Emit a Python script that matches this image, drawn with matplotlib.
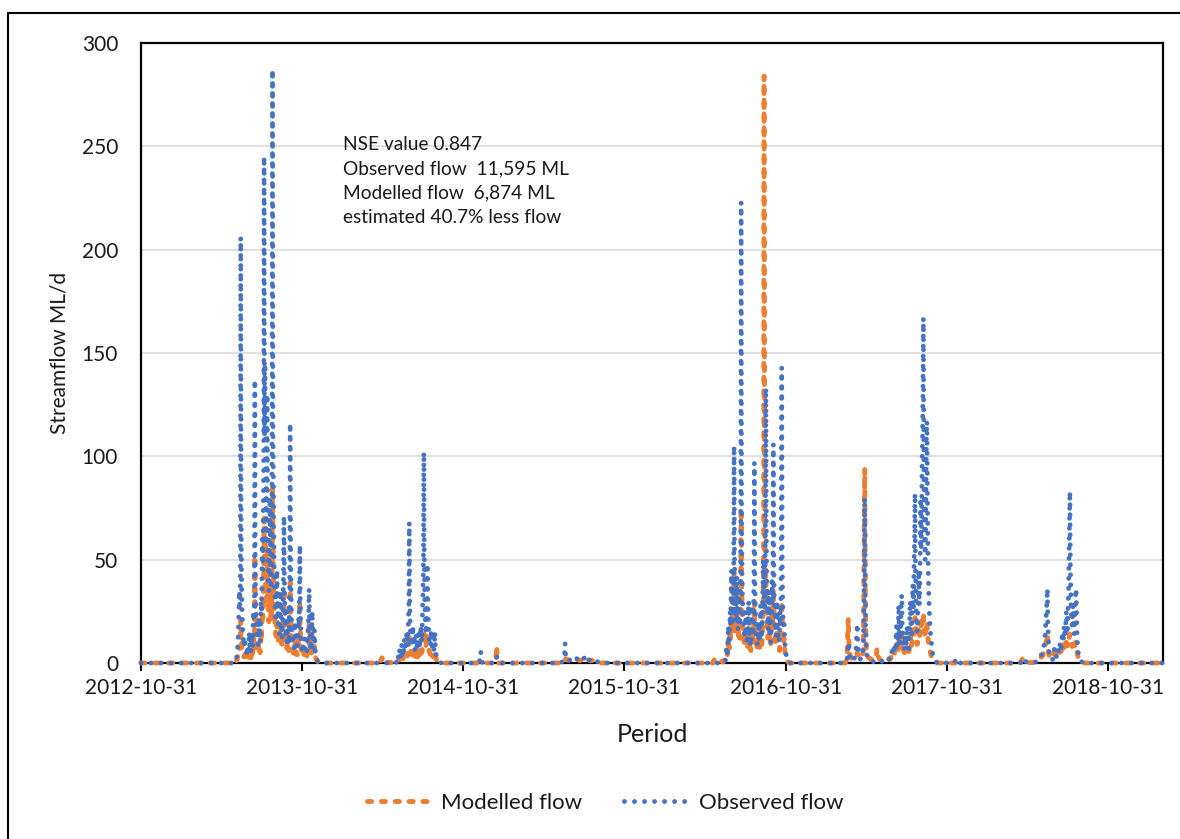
import numpy as np
import matplotlib
matplotlib.use("Agg")
import matplotlib.pyplot as plt
from matplotlib.patches import Rectangle

plt.rcParams['font.family'] = ['Lato', 'DejaVu Sans']

# ---------------- data (daily streamflow, ML/d) ----------------
period_start = "2012-10-31"
period_end = "2019-03-05"
tick_dates = ["2012-10-31", "2013-10-31", "2014-10-31", "2015-10-31",
              "2016-10-31", "2017-10-31", "2018-10-31"]
y_ticks = [0, 50, 100, 150, 200, 250, 300]

# Observed flow, wet-period blocks (start date, daily values); dry days are 0
obs_2013_start = "2013-06-01"
obs_2013 = [0, 0.5, 1, 2, 3, 5, 8,
            12, 18, 25, 35, 28, 40, 206,
            70, 38, 25, 18, 14, 11, 9,
            8, 12, 9, 7, 6, 5, 8,
            6, 5, 4, 6, 15, 10, 7,
            6, 5, 9, 14, 10, 8, 18,
            25, 20, 30, 137, 45, 28, 20,
            15, 12, 10, 9, 14, 22, 16,
            12, 10, 18, 30, 24, 40, 60,
            45, 70, 95, 245, 110, 145, 80,
            60, 75, 95, 130, 70, 50, 40,
            35, 55, 80, 60, 45, 38, 50,
            100, 287, 120, 88, 60, 45, 35,
            28, 24, 20, 30, 45, 32, 25,
            20, 17, 15, 14, 25, 35, 22,
            17, 14, 12, 20, 30, 45, 71,
            40, 28, 20, 15, 12, 10, 18,
            25, 15, 11, 9, 20, 40, 116,
            60, 35, 22, 16, 12, 10, 9,
            8, 7, 12, 20, 14, 10, 8,
            7, 6, 9, 15, 22, 18, 30,
            57, 28, 16, 11, 8, 7, 6,
            5, 5, 8, 12, 9, 7, 6,
            5, 4, 6, 10, 14, 18, 25,
            36, 20, 12, 8, 6, 10, 15,
            25, 14, 9, 7, 10, 16, 9,
            6, 4, 3, 2, 1.5, 1, 0.8,
            0.6, 0.5, 0.4, 0.3, 0.2, 0.1, 0]

obs_2014_start = "2014-06-01"
obs_2014 = [0, 0.5, 1, 2, 4, 3, 2,
            3, 6, 4, 3, 2.5, 5, 9,
            6, 4, 3, 5, 8, 12, 9,
            7, 6, 10, 15, 11, 8, 14,
            20, 28, 68, 30, 18, 14, 11,
            9, 8, 12, 18, 13, 10, 8,
            7, 6, 9, 14, 10, 8, 7,
            6, 10, 16, 12, 9, 7, 12,
            18, 14, 10, 15, 25, 35, 48,
            102, 50, 30, 22, 17, 14, 20,
            28, 48, 30, 20, 15, 12, 10,
            9, 8, 12, 16, 11, 8, 7,
            6, 5, 7, 10, 15, 8, 5,
            4, 3, 2.5, 2, 1.5, 1, 0.8,
            0.6, 0.5, 0.3, 0.2, 0.1, 0, 0]

obs_dec2014_start = "2014-12-06"
obs_dec2014 = [0.5, 1, 1.5, 3, 5.5, 2, 1, 0.5, 0]

obs_jan2015_start = "2015-01-12"
obs_jan2015 = [0.5, 1, 2, 3, 1.5, 0.8, 0.3, 0]

obs_2015_start = "2015-06-10"
obs_2015 = [0, 0.3, 0.5, 0.8, 1, 1.2, 1.5,
            2, 4.5, 9.5, 4.4, 2.5, 2, 1.5,
            1.2, 1, 1, 1.2, 1.5, 1.5, 1.2,
            1, 1, 1.2, 1.5, 1.5, 1.8, 2,
            2, 1.8, 1.6, 1.5, 1.8, 2, 2.3,
            2.3, 2, 1.8, 1.6, 1.5, 1.4, 1.3,
            1.3, 1.2, 1.2, 1.5, 1.8, 2, 1.8,
            1.6, 1.5, 1.8, 2.2, 2.8, 3.2, 3.5,
            3.5, 3.2, 3.5, 2.5, 2, 1.8, 1.6,
            1.5, 1.4, 1.3, 1.2, 1.2, 1.3, 1.5,
            1.5, 1.4, 1.2, 1, 1, 1.2, 1.5,
            1.5, 1.3, 1.2, 1, 0.8, 0.7, 0.6,
            0.5, 0.4, 0.3, 0.2, 0.2, 0.1, 0]

obs_2016_start = "2016-06-15"
obs_2016 = [0.5, 1, 2, 4, 8, 6, 5,
            10, 18, 12, 9, 15, 25, 18,
            30, 45, 28, 20, 35, 25, 40,
            105, 50, 32, 25, 20, 30, 42,
            28, 20, 16, 25, 35, 22, 18,
            30, 55, 223, 80, 45, 32, 25,
            20, 16, 14, 12, 18, 25, 15,
            12, 10, 9, 15, 22, 30, 18,
            14, 11, 9, 8, 12, 20, 28,
            18, 13, 25, 40, 97, 45, 28,
            20, 15, 12, 10, 9, 14, 20,
            15, 12, 10, 18, 28, 20, 15,
            12, 20, 35, 50, 40, 30, 25,
            45, 70, 133, 65, 40, 28, 20,
            16, 25, 35, 22, 16, 12, 10,
            15, 25, 40, 30, 45, 106, 50,
            32, 24, 18, 15, 13, 20, 30,
            22, 16, 13, 11, 10, 15, 25,
            18, 30, 60, 143, 55, 32, 22,
            18, 21, 15, 10, 7, 5, 4,
            3, 2, 1.5, 1, 0.8, 0.5, 0.3,
            0.2, 0.1, 0]

obs_2017_start = "2017-03-15"
obs_2017 = [0, 0.3, 0.5, 1, 2, 4, 6,
            8, 10, 5, 3, 2, 1.5, 1.2,
            1, 0.8, 0.8, 1, 1.2, 1.5, 2,
            2.5, 3, 4, 6, 9, 14, 19,
            13, 8, 5, 4, 3, 2.5, 2,
            2, 1.8, 2, 2.5, 3, 5, 10,
            25, 50, 80, 45, 20, 10, 6,
            4, 3, 2.5, 2, 1.8, 1.5, 1.3,
            1.2, 1, 1, 0.9, 0.8, 0.8, 0.7,
            0.7, 0.6, 0.6, 0.5, 0.5, 0.5, 0.5,
            0.5, 0.6, 0.8, 1, 1.2, 1, 0.8,
            0.7, 0.6, 0.5, 0.5, 0.5, 0.6, 0.8,
            1, 1.2, 1, 0.8, 0.7, 0.8, 1,
            1.2, 1.5, 1.2, 1, 1, 1.2, 1.5,
            1.8, 2, 1.8, 1.5, 1.5, 2, 3,
            4, 6, 5, 4, 6, 9, 7,
            6, 5, 8, 12, 18, 12, 8,
            10, 16, 28, 18, 12, 9, 15,
            22, 30, 33, 20, 14, 10, 8,
            7, 6, 9, 14, 10, 8, 12,
            18, 14, 10, 8, 7, 12, 20,
            30, 22, 16, 12, 18, 28, 38,
            25, 35, 50, 60, 82, 45, 30,
            22, 18, 15, 20, 30, 45, 35,
            28, 40, 60, 80, 55, 70, 95,
            110, 130, 167, 100, 75, 60, 50,
            65, 90, 110, 117, 85, 60, 45,
            35, 28, 22, 18, 15, 12, 10,
            8, 6, 4.5, 3.5, 2.5, 2, 1.5,
            1.2, 1, 0.8, 0.6, 0.4, 0.2, 0]

obs_nov2017_start = "2017-11-18"
obs_nov2017 = [0.5, 1, 2, 1.5, 1, 0.5, 0]

obs_2018_start = "2018-04-15"
obs_2018 = [0, 0.2, 0.5, 0.8, 1, 1.2, 1,
            0.8, 1, 1.5, 2, 1.5, 1, 0.8,
            0.6, 0.5, 0.4, 0.3, 0.3, 0.2, 0.2,
            0.2, 0.2, 0.3, 0.3, 0.3, 0.2, 0.2,
            0.2, 0.2, 0.3, 0.4, 0.5, 0.5, 0.5,
            0.5, 0.5, 0.6, 0.8, 1, 1.2, 1.5,
            1.5, 1.5, 2, 2.5, 3, 3.5, 4,
            4, 4.5, 5, 6, 7, 8, 10,
            12, 14, 18, 22, 26, 30, 36,
            20, 12, 8, 5, 3.5, 2.5, 2,
            1.8, 1.6, 1.5, 1.5, 1.8, 2.5, 3.5,
            5, 7, 5, 4, 3.5, 3, 3.5,
            4, 5, 7, 6, 5, 6, 8,
            10, 8, 7, 9, 12, 15, 12,
            10, 14, 18, 15, 12, 16, 20,
            25, 18, 14, 20, 28, 35, 50,
            65, 83, 50, 35, 25, 20, 18,
            22, 28, 20, 16, 14, 20, 28,
            33, 36, 25, 15, 10, 7, 5,
            4, 3, 2.2, 1.6, 1.2, 1, 0.8,
            0.6, 0.5, 0.4, 0.3, 0.2, 0.1, 0]

# Modelled flow, wet-period blocks
mod_2013_start = "2013-06-01"
mod_2013 = [0, 0, 0.5, 1, 1.5, 2, 3,
            4, 5, 6, 8, 7, 9, 21,
            15, 10, 7, 5, 4, 3.5, 3,
            3, 4, 3, 2.5, 2, 2, 3,
            2.5, 2, 2, 3, 6, 4, 3,
            3, 2.5, 4, 6, 5, 4, 8,
            12, 10, 14, 52, 25, 15, 10,
            8, 6, 5, 5, 7, 10, 8,
            6, 5, 8, 14, 12, 18, 28,
            22, 32, 45, 70, 50, 60, 40,
            30, 35, 45, 55, 35, 26, 22,
            20, 28, 38, 30, 24, 20, 26,
            45, 86, 60, 45, 33, 26, 21,
            18, 15, 13, 16, 22, 17, 14,
            12, 10, 9, 9, 14, 18, 13,
            10, 9, 8, 11, 16, 24, 36,
            24, 17, 13, 10, 8, 7, 10,
            14, 9, 7, 6, 11, 20, 39,
            26, 17, 12, 9, 7, 6, 5,
            5, 4, 6, 10, 8, 6, 5,
            4, 4, 5, 8, 12, 10, 15,
            30, 16, 10, 7, 5, 4, 4,
            3, 3, 4, 6, 5, 4, 3,
            3, 2.5, 3, 5, 7, 9, 12,
            20, 11, 7, 5, 4, 5, 8,
            13, 8, 5, 4, 5, 8, 5,
            3.5, 2.5, 2, 1.5, 1, 0.8, 0.5,
            0.4, 0.3, 0.2, 0.1, 0.1, 0, 0]

mod_2014_start = "2014-04-25"
mod_2014 = [0, 0.5, 1, 1.5, 2, 2.5, 2,
            3, 2.5, 2, 1.5, 1, 0.8, 0.6,
            0.5, 0.4, 0.3, 0.3, 0.2, 0.2, 0.2,
            0.2, 0.2, 0.3, 0.3, 0.2, 0.2, 0.2,
            0.2, 0.3, 0.3, 0.3, 0.4, 0.4, 0.5,
            0.5, 0.6, 0.8, 1, 1.5, 1.2, 1,
            1, 1.5, 2.5, 2, 1.5, 1.2, 2,
            3, 2.5, 2, 1.5, 2, 3, 4,
            3.5, 3, 2.5, 2.5, 3.5, 5, 4,
            3.5, 5, 7, 9, 14, 9, 7,
            6, 5, 4.5, 4, 5, 7, 6,
            5, 4, 3.5, 3, 4, 6, 5,
            4, 3.5, 3, 4, 7, 6, 5,
            4, 5, 7, 6, 5, 6, 9,
            12, 14, 16, 13, 11, 9, 8,
            9, 11, 14, 12, 10, 8, 7,
            6, 5, 4.5, 4, 5, 6, 5,
            4, 3.5, 3, 3, 3.5, 4.5, 6,
            4, 3, 2, 1.5, 1.2, 1, 0.8,
            0.6, 0.5, 0.4, 0.3, 0.2, 0.1, 0]

mod_jan2015_start = "2015-01-12"
mod_jan2015 = [0.5, 1.5, 4, 8, 3, 1.5, 0.8, 0.3, 0]

mod_2015_start = "2015-06-10"
mod_2015 = [0, 0.3, 0.5, 0.8, 1, 1.2, 1.5,
            1.8, 2.2, 2.3, 2, 1.8, 1.6, 1.5,
            1.4, 1.3, 1.3, 1.4, 1.5, 1.5, 1.4,
            1.3, 1.3, 1.4, 1.5, 1.6, 1.8, 2,
            2, 1.9, 1.8, 1.7, 1.8, 2, 2.2,
            2.2, 2, 1.8, 1.6, 1.5, 1.4, 1.3,
            1.3, 1.2, 1.2, 1.4, 1.6, 1.8, 1.7,
            1.6, 1.5, 1.7, 2, 2.3, 2.5, 2.6,
            2.5, 2.3, 2.2, 2, 1.8, 1.6, 1.5,
            1.4, 1.3, 1.2, 1.1, 1.1, 1.2, 1.3,
            1.3, 1.2, 1.1, 1, 1, 1.1, 1.2,
            1.2, 1.1, 1, 0.9, 0.8, 0.7, 0.6,
            0.5, 0.4, 0.3, 0.2, 0.2, 0.1, 0]

mod_2016_start = "2016-05-20"
mod_2016 = [0.5, 1, 1.5, 1, 0.8, 0.6, 0.5,
            0.5, 0.6, 0.8, 1, 0.8, 0.6, 0.5,
            0.5, 0.5, 0.6, 0.8, 1, 0.8, 0.6,
            0.5, 0.5, 0.6, 0.8, 1.5, 2, 3,
            4, 5, 6, 5, 4, 8, 12,
            9, 7, 10, 16, 12, 18, 25,
            18, 14, 22, 16, 24, 44, 30,
            20, 16, 14, 18, 24, 18, 14,
            12, 15, 20, 14, 12, 18, 32,
            75, 45, 28, 20, 16, 13, 11,
            10, 9, 12, 16, 11, 9, 8,
            7, 10, 14, 18, 12, 9, 8,
            7, 6, 8, 12, 16, 12, 9,
            15, 22, 30, 20, 15, 12, 10,
            9, 8, 7, 9, 12, 10, 8,
            7, 10, 15, 12, 10, 9, 14,
            22, 30, 60, 284, 110, 55, 40,
            45, 32, 24, 18, 14, 12, 16,
            20, 15, 12, 10, 9, 12, 18,
            25, 20, 28, 36, 25, 18, 14,
            12, 10, 9, 12, 16, 12, 10,
            9, 8, 7, 6, 9, 14, 20,
            25, 30, 22, 15, 11, 9, 12,
            9, 6, 4, 3, 2, 1.5, 1,
            0.8, 0.5, 0.4, 0.3, 0.2, 0.1, 0]

mod_2017_start = "2017-03-15"
mod_2017 = [0, 0.5, 1, 2, 5, 10, 18,
            21.6, 12, 7, 5, 4, 3, 2.5,
            2, 1.8, 1.6, 1.5, 1.5, 1.6, 1.8,
            2, 2.2, 2.5, 3, 3.5, 4, 5,
            4.5, 4, 3.5, 3, 2.8, 2.5, 2.4,
            2.3, 2.2, 2.5, 3, 3.5, 5, 10,
            30, 60, 94, 50, 20, 10, 6,
            4, 3.5, 3, 2.8, 2.5, 2.3, 2.2,
            2, 2, 1.8, 1.8, 1.6, 1.5, 1.5,
            1.5, 1.5, 1.4, 1.4, 1.5, 1.8, 2.5,
            3.5, 5, 7, 5, 4, 3, 2.5,
            2, 1.8, 1.6, 1.5, 1.5, 1.6, 1.8,
            1.8, 2, 1.8, 1.6, 1.5, 1.4, 1.3,
            1.2, 1.1, 1, 1, 1, 1.2, 1.5,
            1.8, 2, 2, 1.8, 1.8, 2.2, 3,
            3.5, 4.5, 4, 3.5, 4.5, 6, 5,
            4.5, 4, 5, 7, 9, 7, 5,
            6, 8, 12, 9, 7, 6, 8,
            10, 12, 14, 10, 8, 7, 6,
            5.5, 5, 6, 8, 7, 6, 7,
            9, 8, 7, 6, 5.5, 7, 10,
            13, 11, 9, 8, 10, 13, 16,
            12, 14, 17, 19, 22, 17, 13,
            11, 10, 9, 10, 13, 16, 14,
            12, 14, 17, 20, 16, 18, 20,
            21, 22, 24, 19, 16, 14, 12,
            14, 17, 19, 20, 16, 13, 11,
            9, 8, 7, 6, 5, 4, 3.5,
            3, 2.5, 2, 1.5, 1.2, 1, 0.8,
            0.6, 0.5, 0.4, 0.3, 0.2, 0.1, 0]

mod_2018_start = "2018-04-15"
mod_2018 = [0, 0.3, 0.6, 1, 1.5, 1.8, 2,
            2.2, 2.5, 2.2, 2, 1.6, 1.2, 1,
            0.8, 0.6, 0.5, 0.4, 0.3, 0.3, 0.2,
            0.2, 0.2, 0.2, 0.2, 0.2, 0.2, 0.2,
            0.2, 0.2, 0.3, 0.3, 0.4, 0.4, 0.5,
            0.5, 0.6, 0.7, 0.8, 1, 1.2, 1.4,
            1.5, 1.6, 1.8, 2, 2.2, 2.5, 2.8,
            3, 3.2, 3.5, 4, 4.5, 5, 6,
            7, 8, 9, 10, 11, 12, 14,
            9, 6, 4.5, 3.5, 3, 2.6, 2.4,
            2.2, 2.1, 2, 2.2, 2.6, 3.2, 4,
            5, 5.6, 5, 4.5, 4, 3.8, 4,
            4.5, 5, 5.6, 5.2, 4.8, 5, 5.5,
            6, 5.5, 5.5, 6, 7, 8, 7,
            6.5, 7.5, 9, 8, 7, 8, 9,
            10, 9, 8, 9, 10, 11, 12,
            13, 14, 12, 10, 9, 8.5, 8,
            9, 10, 9, 8, 7.5, 8, 9,
            10, 10, 8, 6, 4.5, 3.5, 2.8,
            2.2, 1.8, 1.4, 1.1, 0.9, 0.7, 0.5,
            0.4, 0.3, 0.2, 0.2, 0.1, 0.1, 0]

annotation = ("NSE value 0.847\nObserved flow  11,595 ML\n"
              "Modelled flow  6,874 ML\nestimated 40.7% less flow")

# ---------------- assemble daily series ----------------
t0 = np.datetime64(period_start)
t1 = np.datetime64(period_end)
dates = np.arange(t0, t1 + np.timedelta64(1, 'D'), dtype='datetime64[D]')
observed = np.zeros(len(dates))
modelled = np.zeros(len(dates))


def place(series, start, values):
    i = int((np.datetime64(start) - t0).astype(int))
    series[i:i + len(values)] = values


for s, v in [(obs_2013_start, obs_2013), (obs_2014_start, obs_2014),
             (obs_dec2014_start, obs_dec2014), (obs_jan2015_start, obs_jan2015),
             (obs_2015_start, obs_2015), (obs_2016_start, obs_2016),
             (obs_2017_start, obs_2017), (obs_nov2017_start, obs_nov2017),
             (obs_2018_start, obs_2018)]:
    place(observed, s, v)
for s, v in [(mod_2013_start, mod_2013), (mod_2014_start, mod_2014),
             (mod_jan2015_start, mod_jan2015), (mod_2015_start, mod_2015),
             (mod_2016_start, mod_2016), (mod_2017_start, mod_2017),
             (mod_2018_start, mod_2018)]:
    place(modelled, s, v)

dx = dates.astype(object)

# ---------------- figure ----------------
W, H = 1180, 839
fig = plt.figure(figsize=(W / 100, H / 100), dpi=100)
ax = fig.add_axes([141 / W, 1 - 663 / H, (1163 - 141) / W, (663 - 43) / H])

orange = '#ED7D31'
blue = '#4472C4'
l1, = ax.plot(dx, modelled, color=orange, lw=3.5, linestyle=(0, (0.85, 2.0)),
              dash_capstyle='round', clip_on=False, zorder=3,
              label='Modelled flow')
l2, = ax.plot(dx, observed, color=blue, lw=3.5, linestyle=(0, (0.01, 2.05)),
              dash_capstyle='round', clip_on=False, zorder=4,
              label='Observed flow')

ax.set_xlim(np.datetime64(period_start).astype(object),
            np.datetime64(period_end).astype(object))
ax.set_ylim(0, 300)
ax.set_yticks(y_ticks)
ax.set_yticklabels([str(v) for v in y_ticks])
tick_objs = [np.datetime64(d).astype(object) for d in tick_dates]
ax.set_xticks(tick_objs)
ax.set_xticklabels(tick_dates)

ax.grid(axis='y', color='#d9d9d9', lw=1.2)
ax.set_axisbelow(True)
for sp in ax.spines.values():
    sp.set_color('black')
    sp.set_linewidth(1.6)
ax.tick_params(axis='y', length=0, labelsize=15, pad=16.5, colors='#1a1a1a')
ax.tick_params(axis='x', length=6, width=1.5, direction='out', labelsize=15,
               pad=5, colors='black', labelcolor='#1a1a1a')

ax.set_ylabel('Streamflow ML/d', fontsize=15, labelpad=9, color='#1a1a1a')
ax.set_xlabel('Period', fontsize=18, labelpad=18, color='#1a1a1a')

ax.text((343 - 141) / 1022, (663 - 136) / 620, annotation,
        transform=ax.transAxes, ha='left', va='top', fontsize=13.8,
        linespacing=1.52, color='#1a1a1a')

leg = fig.legend(handles=[l1, l2], loc='center', ncol=2,
                 bbox_to_anchor=(605 / W, 1 - 803 / H), frameon=False,
                 fontsize=16, handlelength=3.05, handletextpad=0.3,
                 columnspacing=1.9)
for t in leg.get_texts():
    t.set_color('#1a1a1a')

fig.patches.append(Rectangle((8 / W, -0.05), 1.2, 1 - 13 / H + 0.05,
                             transform=fig.transFigure, fill=False,
                             edgecolor='black', lw=1.5))

fig.savefig('out.png', dpi=100)
